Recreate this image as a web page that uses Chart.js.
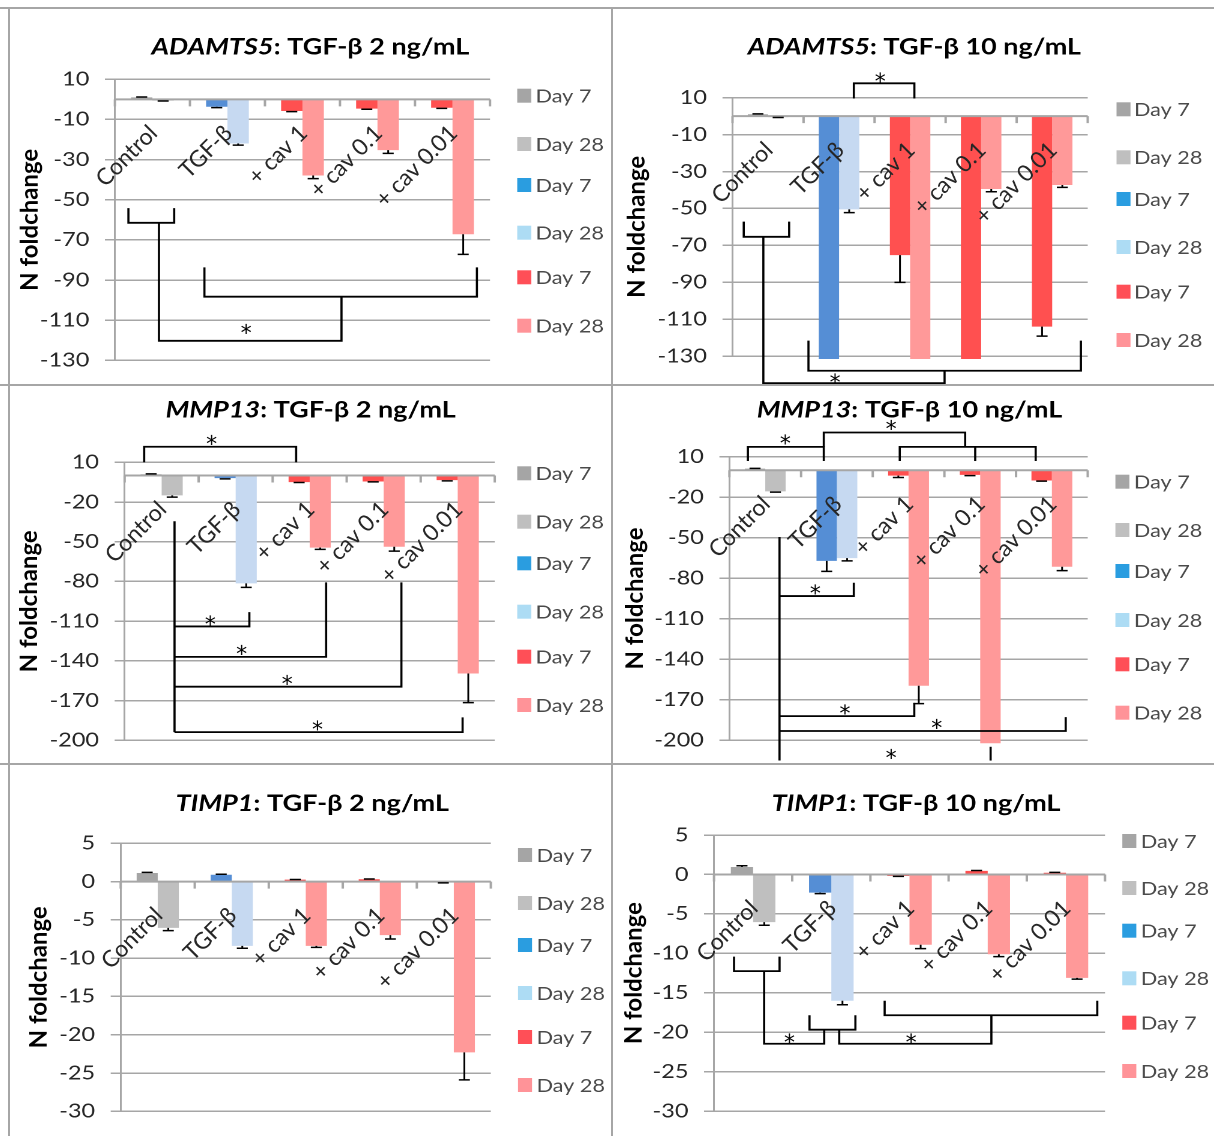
<!DOCTYPE html>
<html><head><meta charset="utf-8">
<script src="https://cdn.jsdelivr.net/npm/chart.js@4.4.0/dist/chart.umd.min.js"></script>
<style>
html,body{margin:0;padding:0;background:#fff;}
#page{position:relative;width:1214px;height:1136px;overflow:hidden;background:#fff;}
.panel{position:absolute;transform-origin:0 0;}
.border{position:absolute;background:#a6a6a6;}
</style></head><body><div id="page"></div>
<script>
// ---------------- DATA ----------------
const categories = ['Control', 'TGF-β', '+ cav 1', '+ cav 0.1', '+ cav 0.01'];
const legendLabels = ['Day 7', 'Day 28', 'Day 7', 'Day 28', 'Day 7', 'Day 28'];

const adamts5Ticks = [10, -10, -30, -50, -70, -90, -110, -130];
const mmp13Ticks = [10, -20, -50, -80, -110, -140, -170, -200];
const timp1Ticks = [5, 0, -5, -10, -15, -20, -25, -30];

const adamts5_2ng_day7 = [1.0, -3.7, -5.8, -4.6, -4.2];
const adamts5_2ng_day7Err = [0.2, 0.4, 0.3, 0.3, 0.3];
const adamts5_2ng_day28 = [-0.6, -22.0, -37.9, -25.3, -67.2];
const adamts5_2ng_day28Err = [0.2, 0.8, 1.6, 1.6, 10.0];

const adamts5_10ng_day7 = [1.0, -135, -75.3, -135, -114.1];
const adamts5_10ng_day7Err = [0.2, null, 14.8, null, 5.1];
const adamts5_10ng_day28 = [-0.5, -50.5, -135, -39.5, -37.3];
const adamts5_10ng_day28Err = [0.2, 1.8, null, 1.5, 1.3];

const mmp13_2ng_day7 = [1.0, -2.0, -5.0, -4.5, -3.5];
const mmp13_2ng_day7Err = [0.3, 0.5, 0.3, 0.3, 0.5];
const mmp13_2ng_day28 = [-15.0, -81.5, -54.5, -53.8, -149.5];
const mmp13_2ng_day28Err = [1.3, 3.0, 1.3, 3.3, 22.0];

const mmp13_10ng_day7 = [1.2, -67.1, -4.0, -3.5, -7.6];
const mmp13_10ng_day7Err = [0.2, 7.8, 1.4, 0.5, 0.5];
const mmp13_10ng_day28 = [-15.7, -65.1, -159.6, -205, -71.5];
const mmp13_10ng_day28Err = [0.5, 2.0, 13.2, null, 2.9];

const timp1_2ng_day7 = [1.12, 0.9, 0.25, 0.3, -0.12];
const timp1_2ng_day7Err = [0.08, 0.05, 0.03, 0.03, 0.05];
const timp1_2ng_day28 = [-6.05, -8.4, -8.4, -7.0, -22.3];
const timp1_2ng_day28Err = [0.35, 0.3, 0.2, 0.5, 3.6];

const timp1_10ng_day7 = [0.95, -2.3, -0.19, 0.46, 0.22];
const timp1_10ng_day7Err = [0.15, 0.12, 0.05, 0.05, 0.05];
const timp1_10ng_day28 = [-6.03, -16.0, -8.9, -10.1, -13.1];
const timp1_10ng_day28Err = [0.4, 0.5, 0.5, 0.3, 0.15];

// significance brackets, in data units: [category position, value]
const adamts5_2ng_brackets = [
  [[-0.32, -54.2], [-0.32, -61.5], [0.29, -61.5], [0.29, -54.2]],
  [[0.087, -61.5], [0.087, -120.3], [2.52, -120.3], [2.52, -98.3]],
  [[0.693, -83.7], [0.693, -98.3], [4.325, -98.3], [4.325, -83.7]]
];
const adamts5_2ng_stars = [[1.25, -113.6]];

const adamts5_10ng_brackets = [
  [[1.208, 9.6], [1.208, 17.8], [2.06, 17.8], [2.06, 9.6]],
  [[-0.342, -57.2], [-0.342, -65.4], [0.297, -65.4], [0.297, -57.2]],
  [[-0.066, -65.4], [-0.066, -144.7], [2.485, -144.7], [2.485, -138]],
  [[0.569, -121.7], [0.569, -138], [4.404, -138], [4.404, -121.7]]
];
const adamts5_10ng_stars = [[1.58, 21.7], [0.944, -141.5]];

const mmp13_2ng_brackets = [
  [[-0.236, 10], [-0.236, 21.75], [1.817, 21.75], [1.817, 10]],
  [[0.174, -34.5], [0.174, -193.8]],
  [[0.174, -114], [1.185, -114], [1.185, -103.2]],
  [[0.174, -137], [2.222, -137], [2.222, -80.7]],
  [[0.174, -159.5], [3.239, -159.5], [3.239, -80.7]],
  [[0.174, -193.8], [4.066, -193.8], [4.066, -182.7]]
];
const mmp13_2ng_stars = [[0.675, 28], [0.657, -108.3], [1.08, -130.8], [1.696, -153.3], [2.106, -187.5]];

const mmp13_10ng_brackets = [
  [[-0.242, 6.8], [-0.242, 17.3], [0.817, 17.3], [0.817, 6.8]],
  [[0.817, 17.3], [0.817, 27.9], [2.79, 27.9], [2.79, 17.3]],
  [[1.877, 6.8], [1.877, 17.3], [3.774, 17.3], [3.774, 6.8]],
  [[2.93, 17.3], [2.93, 6.8]],
  [[0.199, -49.5], [0.199, -215]],
  [[0.199, -93.2], [1.236, -93.2], [1.236, -83.3]],
  [[0.199, -182.1], [2.08, -182.1], [2.08, -172.3]],
  [[0.199, -193.1], [4.193, -193.1], [4.193, -182.8]],
  [[3.145, -204.8], [3.145, -215]]
];
const mmp13_10ng_stars = [[0.28, 23.9], [1.757, 34.5], [0.699, -87.2], [1.113, -176], [2.393, -187], [1.758, -209]];

const timp1_2ng_brackets = [];
const timp1_2ng_stars = [];

const timp1_10ng_brackets = [
  [[-0.244, -10.41], [-0.244, -12.24], [0.338, -12.24], [0.338, -10.41]],
  [[0.141, -12.24], [0.141, -21.44], [0.909, -21.44], [0.909, -19.66]],
  [[0.721, -17.83], [0.721, -19.66], [1.308, -19.66], [1.308, -17.83]],
  [[1.101, -19.66], [1.101, -21.44], [3.047, -21.44], [3.047, -17.83]],
  [[1.682, -16.0], [1.682, -17.83], [4.401, -17.83], [4.401, -16.0]]
];
const timp1_10ng_stars = [[0.465, -20.6], [2.02, -20.6]];

// ---------------- STYLE ----------------
const day7Colors = ['#A5A5A5', '#558ED5', '#FF5050', '#FF5050', '#FF5050'];
const day28Colors = ['#BFBFBF', '#C6D9F1', '#FF9999', '#FF9999', '#FF9999'];
const legendColors = ['#A5A5A5', '#BFBFBF', '#2A9DE0', '#ADDCF4', '#FF4F57', '#FF9398'];
const FONT = 'Lato, "Open Sans", "DejaVu Sans", sans-serif';
const STAR_FONT = '"DejaVu Sans", sans-serif';
const GRID = '#a6a6a6';
const S = 1.2; // horizontal stretch of each panel

const panels = [
  {gene: 'ADAMTS5', dose: ': TGF-β 2 ng/mL', d7: adamts5_2ng_day7, e7: adamts5_2ng_day7Err, d28: adamts5_2ng_day28, e28: adamts5_2ng_day28Err,
   ticks: adamts5Ticks, brackets: adamts5_2ng_brackets, stars: adamts5_2ng_stars,
   x0: 10, y0: 9, w: 602, h: 376, plotL: 114.8, plotR: 489.5, yTopPx: 79.3, yBotPx: 366.7,
   titleX: 310, titleBase: 54.3, yTitleX: 30, legBoxX: 516.7, legTextX: 535, legY: [95.7, 144, 185, 232.7, 277.3, 325.7]},
  {gene: 'ADAMTS5', dose: ': TGF-β 10 ng/mL', d7: adamts5_10ng_day7, e7: adamts5_10ng_day7Err, d28: adamts5_10ng_day28, e28: adamts5_10ng_day28Err,
   ticks: adamts5Ticks, brackets: adamts5_10ng_brackets, stars: adamts5_10ng_stars,
   x0: 614, y0: 9, w: 600, h: 376, plotL: 732.5, plotR: 1087.7, yTopPx: 97.7, yBotPx: 356,
   titleX: 914.4, titleBase: 54.3, yTitleX: 637, legBoxX: 1116.5, legTextX: 1134, legY: [109.3, 157.3, 199, 247, 291.7, 340]},
  {gene: 'MMP13', dose: ': TGF-β 2 ng/mL', d7: mmp13_2ng_day7, e7: mmp13_2ng_day7Err, d28: mmp13_2ng_day28, e28: mmp13_2ng_day28Err,
   ticks: mmp13Ticks, brackets: mmp13_2ng_brackets, stars: mmp13_2ng_stars,
   x0: 10, y0: 386, w: 602, h: 379, plotL: 124.5, plotR: 494.2, yTopPx: 462.3, yBotPx: 742.3,
   titleX: 310.3, titleBase: 417.5, yTitleX: 29, legBoxX: 516.7, legTextX: 535, legY: [473.3, 521.7, 563.3, 611.7, 656.7, 705]},
  {gene: 'MMP13', dose: ': TGF-β 10 ng/mL', d7: mmp13_10ng_day7, e7: mmp13_10ng_day7Err, d28: mmp13_10ng_day28, e28: mmp13_10ng_day28Err,
   ticks: mmp13Ticks, brackets: mmp13_10ng_brackets, stars: mmp13_10ng_stars,
   x0: 614, y0: 386, w: 600, h: 379, plotL: 729.4, plotR: 1087.7, yTopPx: 456.7, yBotPx: 742.7,
   titleX: 909.5, titleBase: 417.5, yTitleX: 635, legBoxX: 1115.4, legTextX: 1133.9, legY: [481.7, 530, 571, 620, 664.3, 712.7]},
  {gene: 'TIMP1', dose: ': TGF-β 2 ng/mL', d7: timp1_2ng_day7, e7: timp1_2ng_day7Err, d28: timp1_2ng_day28, e28: timp1_2ng_day28Err,
   ticks: timp1Ticks, brackets: timp1_2ng_brackets, stars: timp1_2ng_stars,
   x0: 10, y0: 766, w: 602, h: 370, plotL: 120.6, plotR: 490.3, yTopPx: 843.3, yBotPx: 1123.3,
   titleX: 312, titleBase: 811, yTitleX: 39, legBoxX: 517.5, legTextX: 536, legY: [855, 903, 945, 993, 1037, 1085]},
  {gene: 'TIMP1', dose: ': TGF-β 10 ng/mL', d7: timp1_10ng_day7, e7: timp1_10ng_day7Err, d28: timp1_10ng_day28, e28: timp1_10ng_day28Err,
   ticks: timp1Ticks, brackets: timp1_10ng_brackets, stars: timp1_10ng_stars,
   x0: 614, y0: 766, w: 600, h: 370, plotL: 714, plotR: 1105, yTopPx: 835, yBotPx: 1122.7,
   titleX: 916, titleBase: 811, yTitleX: 634, legBoxX: 1122.3, legTextX: 1140.8, legY: [841, 888, 930.7, 978.3, 1022.7, 1071]}
];

const page = document.getElementById('page');

function makeDecor(p) {
  return {
    id: 'decor',
    afterDatasetsDraw(chart) {
      const ctx = chart.ctx, xs = chart.scales.x, ys = chart.scales.y, area = chart.chartArea;
      const X = v => xs.getPixelForValue(v), Y = v => ys.getPixelForValue(v);
      const y0 = Y(0);
      ctx.save();
      // horizontal category axis at zero with tick marks
      ctx.strokeStyle = GRID; ctx.lineWidth = 2;
      ctx.beginPath();
      ctx.moveTo(area.left, y0); ctx.lineTo(area.right, y0);
      for (let k = 0; k <= categories.length; k++) {
        const x = X(k - 0.5); ctx.moveTo(x, y0); ctx.lineTo(x, y0 + 7);
      }
      ctx.stroke();
      // error bars
      ctx.strokeStyle = '#000'; ctx.lineWidth = 1.5;
      const capHalf = 5.5 / S;
      [p.e7, p.e28].forEach((errs, di) => {
        const meta = chart.getDatasetMeta(di);
        const vals = chart.data.datasets[di].data;
        meta.data.forEach((el, j) => {
          const e = errs[j];
          if (e == null) return;
          const v = vals[j];
          const yE = Y(v + (v >= 0 ? e : -e));
          ctx.beginPath();
          ctx.moveTo(el.x, el.y); ctx.lineTo(el.x, yE);
          ctx.moveTo(el.x - capHalf, yE); ctx.lineTo(el.x + capHalf, yE);
          ctx.stroke();
        });
      });
      // rotated category labels
      ctx.fillStyle = '#262626';
      ctx.font = '23px ' + FONT;
      ctx.textAlign = 'right'; ctx.textBaseline = 'middle';
      categories.forEach((c, i) => {
        ctx.save();
        ctx.translate(X(i) + 1 / S, y0 + 30);
        ctx.scale(1 / S, 1);
        ctx.rotate(-Math.PI / 4);
        ctx.fillText(c, 0, 0);
        ctx.restore();
      });
      // brackets
      ctx.strokeStyle = '#000'; ctx.lineWidth = 1.8;
      p.brackets.forEach(line => {
        ctx.beginPath();
        line.forEach((pt, k) => {
          const x = X(pt[0]), y = Y(pt[1]);
          if (k === 0) ctx.moveTo(x, y); else ctx.lineTo(x, y);
        });
        ctx.stroke();
      });
      ctx.fillStyle = '#000';
      ctx.font = '22px ' + STAR_FONT;
      ctx.textAlign = 'center'; ctx.textBaseline = 'alphabetic';
      p.stars.forEach(st => {
        ctx.save();
        ctx.translate(X(st[0]), Y(st[1]));
        ctx.scale(1 / S, 1);
        ctx.fillText('*', 0, 13);
        ctx.restore();
      });
      ctx.restore();
    },
    afterDraw(chart) {
      const ctx = chart.ctx, area = chart.chartArea;
      ctx.save();
      // title: italic gene name + plain rest
      const fI = 'italic bold 22.5px ' + FONT, fN = 'bold 22.5px ' + FONT;
      ctx.font = fI; const w1 = ctx.measureText(p.gene).width;
      ctx.font = fN; const w2 = ctx.measureText(p.dose).width;
      const tx = (p.titleX - p.x0) / S - (w1 + w2) / 2, ty = p.titleBase - p.y0;
      ctx.fillStyle = '#000'; ctx.textAlign = 'left'; ctx.textBaseline = 'alphabetic';
      ctx.font = fI; ctx.fillText(p.gene, tx, ty);
      ctx.font = fN; ctx.fillText(p.dose, tx + w1, ty);
      // y axis title
      ctx.save();
      ctx.translate((p.yTitleX - p.x0) / S, (area.top + area.bottom) / 2);
      ctx.scale(1 / S, 1);
      ctx.rotate(-Math.PI / 2);
      ctx.font = 'bold 24px ' + FONT; ctx.textAlign = 'center'; ctx.textBaseline = 'middle';
      ctx.fillText('N foldchange', 0, 0);
      ctx.restore();
      // legend
      ctx.font = '18px ' + FONT; ctx.textBaseline = 'middle'; ctx.textAlign = 'left';
      legendLabels.forEach((lab, i) => {
        const yy = p.legY[i] - p.y0;
        ctx.fillStyle = legendColors[i];
        ctx.fillRect((p.legBoxX - p.x0) / S, yy - 7, 14 / S, 14);
        ctx.fillStyle = '#4a4a4a';
        ctx.fillText(lab, (p.legTextX - p.x0) / S, yy + 1);
      });
      ctx.restore();
    }
  };
}

panels.forEach(p => {
  const div = document.createElement('div');
  div.className = 'panel';
  div.style.left = p.x0 + 'px'; div.style.top = p.y0 + 'px';
  div.style.width = (p.w / S) + 'px'; div.style.height = p.h + 'px';
  div.style.transform = 'scaleX(' + S + ')';
  const cv = document.createElement('canvas');
  div.appendChild(cv); page.appendChild(div);
  const L = (p.plotL - p.x0) / S, R = (p.plotR - p.x0) / S;
  const T = p.yTopPx - p.y0, B = p.yBotPx - p.y0;
  new Chart(cv, {
    type: 'bar',
    data: {
      labels: categories,
      datasets: [
        {label: 'Day 7', data: p.d7, backgroundColor: day7Colors},
        {label: 'Day 28', data: p.d28, backgroundColor: day28Colors}
      ]
    },
    options: {
      responsive: true, maintainAspectRatio: false, animation: false, devicePixelRatio: 2,
      layout: {padding: {left: 0, right: p.w / S - R, top: T, bottom: p.h - B}},
      plugins: {legend: {display: false}, tooltip: {enabled: false}, title: {display: false}},
      datasets: {bar: {categoryPercentage: 0.57, barPercentage: 1, borderWidth: 0,
                       clip: {left: 2, right: 2, top: 2, bottom: 3}}},
      scales: {
        x: {display: false, offset: true},
        y: {
          min: Math.min(...p.ticks), max: Math.max(...p.ticks),
          afterBuildTicks: s => { s.ticks = p.ticks.map(v => ({value: v})); },
          afterFit: s => { s.width = L; },
          ticks: {font: {family: FONT, size: 19.5}, color: '#262626', padding: 13, callback: v => String(v)},
          grid: {color: GRID, lineWidth: 1.5, tickLength: 10 / S, drawTicks: true},
          border: {display: true, color: GRID, width: 1.5}
        }
      }
    },
    plugins: [makeDecor(p)]
  });
});

// panel frame lines
[[0, 7, 1214, 2], [8, 7, 2, 1129], [611, 7, 2, 1129], [0, 384, 1214, 2], [0, 763, 1214, 2]].forEach(b => {
  const d = document.createElement('div');
  d.className = 'border';
  d.style.left = b[0] + 'px'; d.style.top = b[1] + 'px';
  d.style.width = b[2] + 'px'; d.style.height = b[3] + 'px';
  page.appendChild(d);
});
</script></body></html>
